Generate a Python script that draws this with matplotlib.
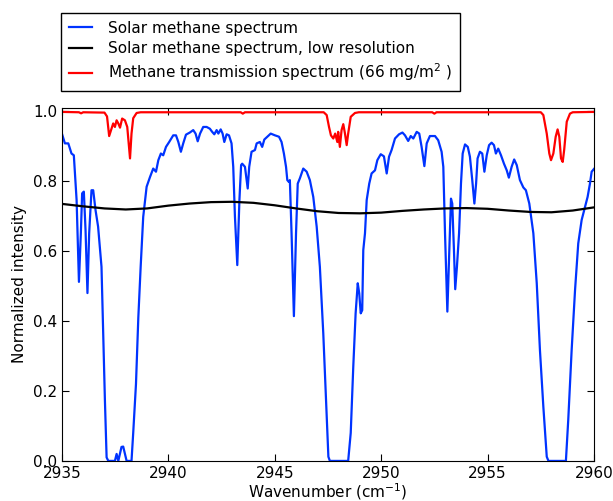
import matplotlib
matplotlib.use('Agg')
import matplotlib.pyplot as plt

# high resolution solar spectrum
wn_solar = [2935.0, 2935.14, 2935.3, 2935.45, 2935.56, 2935.69, 2935.8, 2935.89, 2935.95, 2936.03,
            2936.11, 2936.2, 2936.28, 2936.39, 2936.47, 2936.58, 2936.7, 2936.86, 2936.94, 2937.02,
            2937.1, 2937.18, 2937.49, 2937.57, 2937.65, 2937.8, 2937.88, 2937.96, 2938.04, 2938.27,
            2938.35, 2938.48, 2938.59, 2938.7, 2938.82, 2938.98, 2939.14, 2939.29, 2939.42, 2939.53,
            2939.65, 2939.76, 2939.89, 2940.04, 2940.23, 2940.36, 2940.47, 2940.59, 2940.7, 2940.83,
            2941.01, 2941.17, 2941.28, 2941.38, 2941.49, 2941.64, 2941.8, 2941.95, 2942.06, 2942.16,
            2942.27, 2942.35, 2942.46, 2942.55, 2942.63, 2942.74, 2942.85, 2942.97, 2943.05, 2943.13,
            2943.24, 2943.34, 2943.42, 2943.47, 2943.6, 2943.73, 2943.8, 2943.91, 2944.07, 2944.15,
            2944.3, 2944.41, 2944.51, 2944.65, 2944.81, 2945.01, 2945.2, 2945.32, 2945.43, 2945.53,
            2945.59, 2945.66, 2945.71, 2945.79, 2945.9, 2946.0, 2946.08, 2946.18, 2946.34, 2946.5,
            2946.65, 2946.81, 2946.97, 2947.12, 2947.28, 2947.41, 2947.52, 2947.59, 2948.45, 2948.57,
            2948.69, 2948.8, 2948.9, 2948.97, 2949.04, 2949.11, 2949.16, 2949.24, 2949.32, 2949.44,
            2949.55, 2949.71, 2949.82, 2949.98, 2950.13, 2950.26, 2950.37, 2950.49, 2950.65, 2950.84,
            2951.0, 2951.12, 2951.27, 2951.39, 2951.51, 2951.67, 2951.79, 2951.9, 2952.03, 2952.14,
            2952.29, 2952.53, 2952.68, 2952.84, 2952.92, 2953.0, 2953.11, 2953.2, 2953.28, 2953.34,
            2953.42, 2953.48, 2953.56, 2953.66, 2953.75, 2953.83, 2953.94, 2954.07, 2954.17, 2954.28,
            2954.38, 2954.46, 2954.53, 2954.64, 2954.75, 2954.85, 2954.96, 2955.07, 2955.19, 2955.3,
            2955.39, 2955.5, 2955.63, 2955.77, 2955.9, 2956.0, 2956.13, 2956.25, 2956.37, 2956.52,
            2956.68, 2956.8, 2956.96, 2957.15, 2957.31, 2957.46, 2957.62, 2957.78, 2957.86, 2958.68,
            2958.79, 2958.95, 2959.11, 2959.26, 2959.42, 2959.58, 2959.7, 2959.81, 2959.89, 2960.0]
solar = [0.936, 0.908, 0.908, 0.879, 0.874, 0.746, 0.512, 0.651, 0.765, 0.770,
         0.660, 0.480, 0.650, 0.774, 0.774, 0.717, 0.670, 0.555, 0.365, 0.174,
         0.010, 0.0, 0.0, 0.020, 0.0, 0.040, 0.041, 0.020, 0.0, 0.0,
         0.080, 0.220, 0.410, 0.555, 0.698, 0.784, 0.812, 0.836, 0.827, 0.860,
         0.879, 0.874, 0.898, 0.912, 0.931, 0.931, 0.912, 0.884, 0.908, 0.933,
         0.939, 0.946, 0.936, 0.914, 0.936, 0.955, 0.955, 0.950, 0.941, 0.934,
         0.946, 0.936, 0.948, 0.936, 0.912, 0.934, 0.931, 0.908, 0.841, 0.698,
         0.560, 0.746, 0.846, 0.850, 0.841, 0.779, 0.841, 0.884, 0.889, 0.908,
         0.912, 0.898, 0.919, 0.927, 0.936, 0.931, 0.927, 0.912, 0.879, 0.841,
         0.803, 0.798, 0.803, 0.651, 0.414, 0.651, 0.793, 0.808, 0.836, 0.827,
         0.803, 0.755, 0.670, 0.555, 0.365, 0.174, 0.012, 0.0, 0.0, 0.080,
         0.270, 0.422, 0.508, 0.479, 0.422, 0.431, 0.603, 0.651, 0.746, 0.793,
         0.822, 0.831, 0.860, 0.877, 0.871, 0.822, 0.870, 0.889, 0.922, 0.934,
         0.939, 0.931, 0.915, 0.929, 0.922, 0.941, 0.936, 0.898, 0.843, 0.908,
         0.929, 0.929, 0.917, 0.884, 0.841, 0.651, 0.427, 0.603, 0.750, 0.736,
         0.603, 0.491, 0.555, 0.651, 0.793, 0.879, 0.905, 0.898, 0.870, 0.803,
         0.736, 0.793, 0.865, 0.884, 0.879, 0.827, 0.874, 0.903, 0.910, 0.903,
         0.879, 0.893, 0.874, 0.850, 0.831, 0.810, 0.841, 0.862, 0.846, 0.803,
         0.782, 0.774, 0.736, 0.651, 0.508, 0.317, 0.155, 0.012, 0.0, 0.0,
         0.117, 0.317, 0.489, 0.622, 0.689, 0.727, 0.755, 0.793, 0.827, 0.835]

# low resolution version
wn_low = [2935, 2936, 2937, 2938, 2939, 2940, 2941, 2942, 2943, 2944, 2945, 2946, 2947,
          2948, 2949, 2950, 2951, 2952, 2953, 2954, 2955, 2956, 2957, 2958, 2959, 2960]
solar_low = [0.735, 0.728, 0.722, 0.719, 0.722, 0.730, 0.736, 0.740, 0.741, 0.738, 0.731,
             0.722, 0.714, 0.709, 0.708, 0.710, 0.715, 0.719, 0.722, 0.723, 0.721, 0.716,
             0.712, 0.711, 0.716, 0.725]

# methane transmission
wn_ch4 = [2935.0, 2935.8, 2935.9, 2936.0, 2937.0, 2937.12, 2937.22, 2937.33, 2937.41, 2937.49,
          2937.57, 2937.65, 2937.73, 2937.83, 2937.96, 2938.07, 2938.2, 2938.27, 2938.35, 2938.51,
          2938.7, 2943.4, 2943.5, 2943.6, 2947.3, 2947.44, 2947.55, 2947.64, 2947.75, 2947.84,
          2947.94, 2947.98, 2948.06, 2948.14, 2948.22, 2948.3, 2948.38, 2948.45, 2948.57, 2948.77,
          2948.95, 2952.4, 2952.5, 2952.6, 2957.5, 2957.62, 2957.78, 2957.9, 2957.98, 2958.09,
          2958.2, 2958.29, 2958.37, 2958.45, 2958.53, 2958.6, 2958.72, 2958.87, 2959.0, 2960.0]
ch4 = [0.998, 0.997, 0.994, 0.997, 0.996, 0.985, 0.929, 0.950, 0.965, 0.955,
       0.974, 0.965, 0.953, 0.979, 0.974, 0.955, 0.865, 0.936, 0.980, 0.995,
       0.997, 0.997, 0.993, 0.997, 0.997, 0.989, 0.955, 0.931, 0.922, 0.936,
       0.912, 0.941, 0.898, 0.946, 0.963, 0.936, 0.903, 0.936, 0.984, 0.995,
       0.997, 0.997, 0.993, 0.997, 0.997, 0.989, 0.936, 0.879, 0.860, 0.879,
       0.927, 0.948, 0.927, 0.865, 0.855, 0.890, 0.970, 0.993, 0.997, 0.998]

fig = plt.figure(figsize=(6.13, 5.01), dpi=100)
ax = fig.add_axes([0.101, 0.080, 0.868, 0.705])

l1, = ax.plot(wn_solar, solar, color='#0033ff', lw=1.6)
l2, = ax.plot(wn_low, solar_low, color='black', lw=1.6)
l3, = ax.plot(wn_ch4, ch4, color='red', lw=1.6)

ax.set_xlim(2935, 2960)
ax.set_ylim(0, 1.01)
ax.set_xticks([2935, 2940, 2945, 2950, 2955, 2960])
ax.set_yticks([0.0, 0.2, 0.4, 0.6, 0.8, 1.0])
ax.tick_params(direction='in', top=True, right=True, length=5, labelsize=11)
ax.set_xlabel('Wavenumber (cm$^{-1}$)', fontsize=11, labelpad=0.5)
ax.set_ylabel('Normalized intensity', fontsize=11)

leg = fig.legend([l1, l2, l3],
                 ['Solar methane spectrum',
                  'Solar methane spectrum, low resolution',
                  'Methane transmission spectrum (66 mg/m$^2$ )'],
                 loc='upper left', bbox_to_anchor=(61 / 613, 1 - 13 / 501),
                 fontsize=11, fancybox=False, framealpha=1, edgecolor='black',
                 borderaxespad=0, handlelength=1.5, handletextpad=1.1,
                 borderpad=0.5, labelspacing=0.35)
leg.get_frame().set_linewidth(1.0)

fig.savefig('out.png', dpi=100)
